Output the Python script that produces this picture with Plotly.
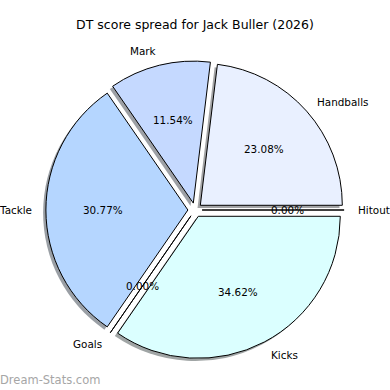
import math
import plotly.graph_objects as go

# Data
labels = ["Hitout", "Handballs", "Mark", "Tackle", "Goals", "Kicks"]
points = [0, 6, 3, 8, 0, 9]
colors = ["#f0f8ff", "#e9f0ff", "#c5d9ff", "#b5d6ff", "#eaf2ff", "#dbffff"]
explode = [0.05] * 6
title_text = "DT score spread for Jack Buller (2026)"
watermark = "Dream-Stats.com"

W = H = 390
cx_px, cy_px = 195.0, 210.0  # pie centre (px from top-left)
r_px = 142.0
maxpull = max(explode)
half = r_px * (1 + maxpull)


def dom(cx, cy):
    x0 = (cx - half) / W
    x1 = (cx + half) / W
    y0 = (H - cy - half) / H
    y1 = (H - cy + half) / H
    return dict(x=[x0, x1], y=[y0, y1])


def hex2rgb(h):
    h = h.lstrip("#")
    return tuple(int(h[i:i + 2], 16) for i in (0, 2, 4))


shadow_cols = []
for c in colors:
    r, g, b = hex2rgb(c)
    shadow_cols.append(f"rgba({int(0.3*r)},{int(0.3*g)},{int(0.3*b)},0.5)")

fig = go.Figure()
# shadow
fig.add_trace(go.Pie(
    labels=labels, values=points, sort=False, direction="counterclockwise",
    rotation=90, pull=explode, textinfo="none", hoverinfo="skip",
    marker=dict(colors=shadow_cols, line=dict(width=0)),
    domain=dom(cx_px - 2.8, cy_px + 2.8), showlegend=False,
))
# main pie
fig.add_trace(go.Pie(
    labels=labels, values=points, sort=False, direction="counterclockwise",
    rotation=90, pull=explode, textinfo="none",
    marker=dict(colors=colors, line=dict(color="black", width=1)),
    domain=dom(cx_px, cy_px), showlegend=False,
))

total = sum(points)
annotations = []
cum = 0.0
font = dict(family="DejaVu Sans", size=10.4, color="black")
for lab, v, e in zip(labels, points, explode):
    frac = v / total
    theta = 2 * math.pi * (cum + frac / 2)
    cum += frac
    ct, st = math.cos(theta), math.sin(theta)
    # label
    lx = cx_px + (1.1 + e) * r_px * ct
    ly = cy_px - (1.1 + e) * r_px * st
    annotations.append(dict(
        x=lx / W, y=1 - ly / H, xref="paper", yref="paper", text=lab,
        showarrow=False, xanchor="left" if ct > 0 else "right",
        yanchor="middle", font=font, borderpad=0, borderwidth=0,
    ))
    px = cx_px + (0.6 + e) * r_px * ct
    py = cy_px - (0.6 + e) * r_px * st
    annotations.append(dict(
        x=px / W, y=1 - py / H, xref="paper", yref="paper",
        text=f"{frac*100:.2f}%", showarrow=False, xanchor="center",
        yanchor="middle", font=font, borderpad=0, borderwidth=0,
    ))

annotations.append(dict(
    x=0, y=1 - 380 / H, xref="paper", yref="paper", text=watermark,
    showarrow=False, xanchor="left", yanchor="middle",
    borderpad=0, borderwidth=0,
    font=dict(family="DejaVu Sans", size=11.5, color="#a6a6a6"),
))

fig.update_layout(
    width=W, height=H, margin=dict(l=0, r=0, t=0, b=0),
    paper_bgcolor="white", plot_bgcolor="white",
    title=dict(text=title_text, x=0.5, xanchor="center", y=1 - 25 / H,
               yanchor="middle", yref="container",
               font=dict(family="DejaVu Sans", size=12.5, color="black")),
    annotations=annotations,
)

fig.write_html("out.html", config={"displayModeBar": False},
               post_script="document.body.style.margin='0';")
